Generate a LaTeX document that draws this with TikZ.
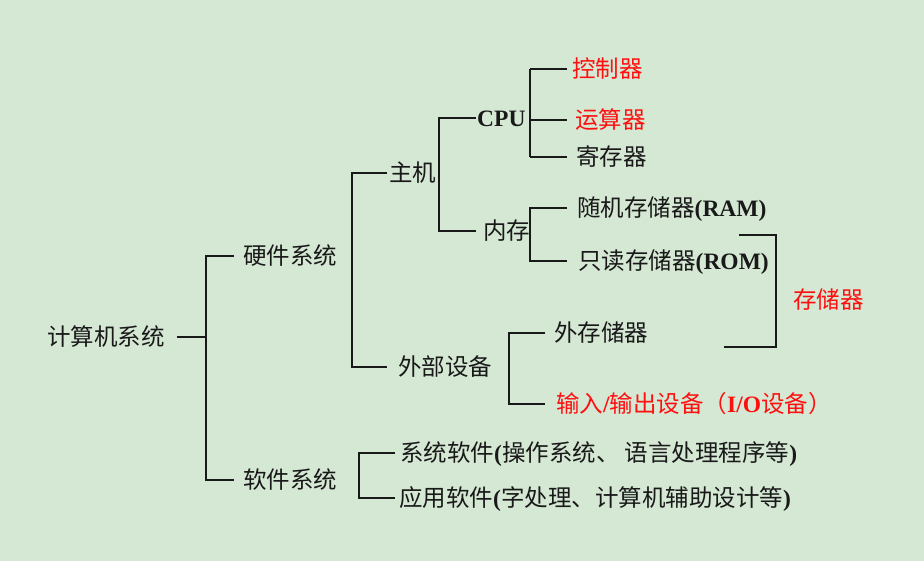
\documentclass[tikz,border=0pt]{standalone}
\usepackage{fontspec}
\setmainfont{Noto Sans CJK SC}
\newfontfamily\latfont{Liberation Serif}
\usepackage{tikz}
\usetikzlibrary{positioning}
\definecolor{bggreen}{RGB}{213,232,212}
\definecolor{hlred}{RGB}{255,16,16}
\newcommand{\enb}[1]{{\latfont\bfseries #1}}
\tikzstyle{txt} = [anchor=west, inner sep=0pt, text height=20pt, text depth=3pt,
  font=\fontsize{23.5}{28}\selectfont, text=black!90]
\tikzstyle{hot} = [txt, text=hlred]
\tikzstyle{branch} = [line width=1.2pt, black!90]

\begin{document}
\begin{tikzpicture}[x=1pt, y=-1pt]
    \fill[bggreen] (0,0) rectangle (924,561);
    % labels
    \node[txt] (root) at (47,337) {计算机系统};
    \node[txt] (hw) at (243,256) {硬件系统};
    \node[txt] (sw) at (243,480) {软件系统};
    \node[txt] (host) at (389,173) {主机};
    \node[txt] (ext) at (398,367) {外部设备};
    \node[txt] (cpu) at (477,118) {\enb{CPU}};
    \node[txt] (mm) at (483,231) {内存};
    \node[hot] (ctrl) at (572,69) {控制器};
    \node[hot] (alu) at (575,120) {运算器};
    \node[txt] (reg) at (576,157) {寄存器};
    \node[txt] (ram) at (577,208) {随机存储器\enb{(RAM)}};
    \node[txt] (rom) at (578,261) {只读存储器\enb{(ROM)}};
    \node[hot] (mem) at (793,300) {存储器};
    \node[txt] (disk) at (554,333) {外存储器};
    \node[hot] (io) at (556,404) {输入\enb{/}输出设备（\enb{I/O}设备）};
    \node[txt] (sys) at (400,453) {系统软件\enb{(}操作系统、 语言处理程序等\enb{)}};
    \node[txt] (app) at (399,498) {应用软件\enb{(}字处理、计算机辅助设计等\enb{)}};
    % bracket columns
    \coordinate (bA) at (206,0);  \coordinate (eA) at (234,0);
    \coordinate (bB) at (352,0);  \coordinate (eB) at (387,0);
    \coordinate (bC) at (439,0);  \coordinate (eC) at (476,0);
    \coordinate (bD) at (530,0);  \coordinate (eD) at (567,0);
    \coordinate (bE) at (509,0);  \coordinate (eE) at (545,0);
    \coordinate (bF) at (359,0);  \coordinate (eF) at (395,0);
    \coordinate (mtop) at (739,235);
    \coordinate (mbot) at (724,347);
    % connectors
    \draw[branch] ([xshift=12pt]root.east) -- (root.east -| bA);
    \draw[branch] (hw.west -| eA) -- (hw.west -| bA) -- (sw.west -| bA) -- (sw.west -| eA);
    \draw[branch] (host.west -| eB) -- (host.west -| bB) -- (ext.west -| bB) -- (ext.west -| eB);
    \draw[branch] (cpu.west -| eC) -- (cpu.west -| bC) -- (mm.west -| bC) -- (mm.west -| eC);
    \draw[branch] (ctrl.west -| bD) -- (reg.west -| bD);
    \foreach \n in {ctrl,alu,reg}
      \draw[branch] (\n.west -| bD) -- (\n.west -| eD);
    \draw[branch] (ram.west -| eD) -- (ram.west -| bD) -- (rom.west -| bD) -- (rom.west -| eD);
    \draw[branch] (disk.west -| eE) -- (disk.west -| bE) -- (io.west -| bE) -- (io.west -| eE);
    \draw[branch] (sys.west -| eF) -- (sys.west -| bF) -- (app.west -| bF) -- (app.west -| eF);
    \draw[branch] (mtop) -| ([xshift=-17pt]mem.west) |- (mbot);
\end{tikzpicture}
\end{document}
